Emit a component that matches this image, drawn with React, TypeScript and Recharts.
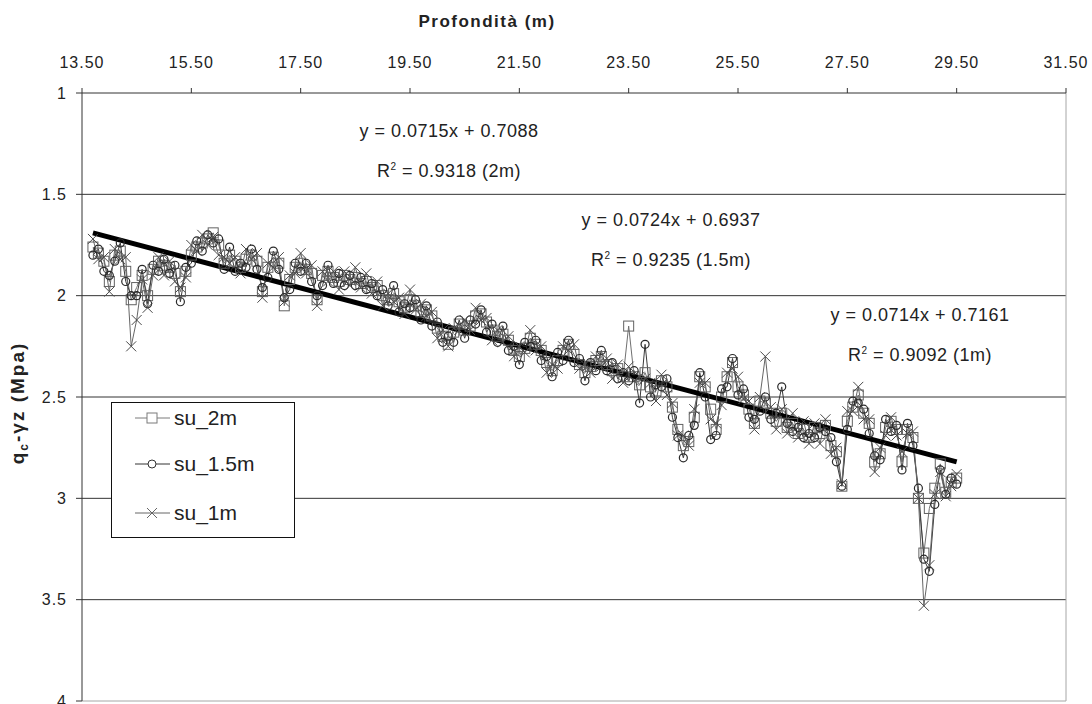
import React from "react";
import {
  LineChart,
  Line,
  XAxis,
  YAxis,
  ReferenceLine,
  Legend,
} from "recharts";

// depth (m), one reading every 0.1 m
const depth = [
  13.7, 13.8, 13.9, 14.0, 14.1, 14.2, 14.3, 14.4, 14.5, 14.6,
  14.7, 14.8, 14.9, 15.0, 15.1, 15.2, 15.3, 15.4, 15.5, 15.6,
  15.7, 15.8, 15.9, 16.0, 16.1, 16.2, 16.3, 16.4, 16.5, 16.6,
  16.7, 16.8, 16.9, 17.0, 17.1, 17.2, 17.3, 17.4, 17.5, 17.6,
  17.7, 17.8, 17.9, 18.0, 18.1, 18.2, 18.3, 18.4, 18.5, 18.6,
  18.7, 18.8, 18.9, 19.0, 19.1, 19.2, 19.3, 19.4, 19.5, 19.6,
  19.7, 19.8, 19.9, 20.0, 20.1, 20.2, 20.3, 20.4, 20.5, 20.6,
  20.7, 20.8, 20.9, 21.0, 21.1, 21.2, 21.3, 21.4, 21.5, 21.6,
  21.7, 21.8, 21.9, 22.0, 22.1, 22.2, 22.3, 22.4, 22.5, 22.6,
  22.7, 22.8, 22.9, 23.0, 23.1, 23.2, 23.3, 23.4, 23.5, 23.6,
  23.7, 23.8, 23.9, 24.0, 24.1, 24.2, 24.3, 24.4, 24.5, 24.6,
  24.7, 24.8, 24.9, 25.0, 25.1, 25.2, 25.3, 25.4, 25.5, 25.6,
  25.7, 25.8, 25.9, 26.0, 26.1, 26.2, 26.3, 26.4, 26.5, 26.6,
  26.7, 26.8, 26.9, 27.0, 27.1, 27.2, 27.3, 27.4, 27.5, 27.6,
  27.7, 27.8, 27.9, 28.0, 28.1, 28.2, 28.3, 28.4, 28.5, 28.6,
  28.7, 28.8, 28.9, 29.0, 29.1, 29.2, 29.3, 29.4, 29.5,
];

const su2m = [
  1.76, 1.79, 1.83, 1.93, 1.80, 1.78, 1.88, 2.02, 1.96, 1.90,
  2.00, 1.87, 1.83, 1.85, 1.86, 1.89, 1.98, 1.88, 1.80, 1.76,
  1.74, 1.72, 1.69, 1.75, 1.84, 1.80, 1.83, 1.86, 1.82, 1.80,
  1.83, 1.98, 1.86, 1.81, 1.84, 2.05, 1.92, 1.86, 1.84, 1.87,
  1.89, 2.02, 1.90, 1.88, 1.91, 1.93, 1.90, 1.92, 1.91, 1.94,
  1.93, 1.96, 1.95, 2.00, 2.02, 1.99, 2.03, 2.06, 2.02, 2.05,
  2.08, 2.07, 2.10, 2.16, 2.20, 2.24, 2.18, 2.14, 2.17, 2.15,
  2.10, 2.09, 2.13, 2.17, 2.20, 2.19, 2.22, 2.27, 2.30, 2.26,
  2.21, 2.24, 2.27, 2.33, 2.37, 2.32, 2.27, 2.24, 2.29, 2.34,
  2.38, 2.35, 2.32, 2.30, 2.34, 2.37, 2.36, 2.40, 2.15, 2.40,
  2.44, 2.38, 2.45, 2.47, 2.42, 2.45, 2.55, 2.66, 2.74, 2.72,
  2.60, 2.40, 2.45, 2.56, 2.66, 2.50, 2.40, 2.33, 2.45, 2.49,
  2.56, 2.63, 2.52, 2.53, 2.58, 2.62, 2.58, 2.65, 2.63, 2.68,
  2.66, 2.70, 2.65, 2.68, 2.64, 2.74, 2.77, 2.94, 2.62, 2.55,
  2.49, 2.58, 2.63, 2.82, 2.78, 2.65, 2.62, 2.66, 2.82, 2.66,
  2.70, 3.00, 3.27, 3.05, 2.95, 2.83, 2.97, 2.92, 2.90,
];

const su15m = [
  1.80, 1.77, 1.88, 1.90, 1.83, 1.74, 1.93, 2.00, 2.00, 1.87,
  2.04, 1.85, 1.88, 1.82, 1.89, 1.85, 2.03, 1.86, 1.84, 1.73,
  1.78, 1.70, 1.74, 1.72, 1.87, 1.76, 1.88, 1.84, 1.86, 1.77,
  1.87, 1.96, 1.91, 1.78, 1.87, 2.01, 1.97, 1.84, 1.88, 1.84,
  1.93, 2.00, 1.95, 1.85, 1.94, 1.89, 1.95, 1.90, 1.95, 1.91,
  1.97, 1.94, 2.00, 1.97, 2.05, 1.95, 2.08, 2.04, 2.06, 2.02,
  2.12, 2.05, 2.15, 2.13, 2.23, 2.20, 2.23, 2.12, 2.21, 2.12,
  2.14, 2.07, 2.18, 2.14, 2.23, 2.15, 2.27, 2.25, 2.34, 2.23,
  2.25, 2.22, 2.32, 2.30, 2.40, 2.28, 2.32, 2.22, 2.33, 2.31,
  2.42, 2.33, 2.37, 2.27, 2.37, 2.33, 2.41, 2.38, 2.42, 2.37,
  2.53, 2.24, 2.50, 2.44, 2.45, 2.41, 2.60, 2.70, 2.80, 2.69,
  2.64, 2.38, 2.50, 2.71, 2.69, 2.46, 2.45, 2.31, 2.49, 2.46,
  2.60, 2.61, 2.57, 2.50, 2.61, 2.58, 2.45, 2.63, 2.67, 2.65,
  2.70, 2.68, 2.70, 2.65, 2.67, 2.70, 2.82, 2.94, 2.66, 2.52,
  2.53, 2.56, 2.68, 2.79, 2.81, 2.61, 2.67, 2.64, 2.86, 2.63,
  2.74, 2.95, 3.30, 3.36, 3.03, 2.86, 2.98, 2.90, 2.93,
];

const su1m = [
  1.72, 1.82, 1.81, 1.98, 1.77, 1.82, 1.81, 2.25, 2.12, 1.92,
  2.06, 1.90, 1.81, 1.90, 1.83, 1.93, 1.96, 1.91, 1.75, 1.78,
  1.70, 1.75, 1.71, 1.80, 1.81, 1.84, 1.81, 1.89, 1.77, 1.82,
  1.79, 2.01, 1.84, 1.86, 1.81, 2.03, 1.90, 1.89, 1.79, 1.89,
  1.85, 2.05, 1.88, 1.93, 1.88, 1.97, 1.88, 1.95, 1.86, 1.96,
  1.89, 1.99, 1.93, 2.05, 1.99, 2.03, 2.01, 2.09, 1.97, 2.07,
  2.04, 2.10, 2.08, 2.21, 2.17, 2.25, 2.16, 2.17, 2.12, 2.17,
  2.06, 2.12, 2.11, 2.22, 2.17, 2.23, 2.20, 2.30, 2.25, 2.28,
  2.17, 2.27, 2.25, 2.38, 2.34, 2.36, 2.25, 2.27, 2.24, 2.36,
  2.34, 2.38, 2.30, 2.35, 2.31, 2.41, 2.34, 2.43, 2.35, 2.42,
  2.40, 2.41, 2.43, 2.52, 2.39, 2.49, 2.53, 2.69, 2.69, 2.74,
  2.56, 2.43, 2.43, 2.61, 2.63, 2.54, 2.38, 2.36, 2.40, 2.51,
  2.52, 2.66, 2.50, 2.30, 2.55, 2.66, 2.56, 2.68, 2.58, 2.70,
  2.62, 2.73, 2.63, 2.73, 2.61, 2.78, 2.75, 2.93, 2.57, 2.57,
  2.45, 2.61, 2.61, 2.87, 2.75, 2.69, 2.60, 2.69, 2.77, 2.68,
  2.67, 3.00, 3.53, 3.33, 2.98, 2.87, 2.99, 2.94, 2.88,
];

// linear trend (2m) end points
const trendDepth = [13.7, 29.5];
const trendValue = [1.69, 2.82];

const xTicks = [13.5, 15.5, 17.5, 19.5, 21.5, 23.5, 25.5, 27.5, 29.5, 31.5];
const yTicks = [1, 1.5, 2, 2.5, 3, 3.5, 4];
const gridLines = [1.5, 2, 2.5, 3, 3.5];

const rows = depth.map((d, i) => ({ depth: d, su2m: su2m[i], su15m: su15m[i], su1m: su1m[i] }));
const trendRows = trendDepth.map((d, i) => ({ depth: d, trend: trendValue[i] }));

const FONT = "'Liberation Sans', Arial, sans-serif";
const TEXT = "#222";

const SquareDot = (p: any) => {
  if (p.cx == null || p.cy == null) return <g key={`s${p.index}`} />;
  return (
    <rect key={`s${p.index}`} x={p.cx - 5} y={p.cy - 5} width={10} height={10}
      fill="none" stroke="#626262" strokeWidth={1} />
  );
};

const CircleDot = (p: any) => {
  if (p.cx == null || p.cy == null) return <g key={`c${p.index}`} />;
  return <circle key={`c${p.index}`} cx={p.cx} cy={p.cy} r={4} fill="none" stroke="#2a2a2a" strokeWidth={1.2} />;
};

const CrossDot = (p: any) => {
  if (p.cx == null || p.cy == null) return <g key={`x${p.index}`} />;
  return (
    <path key={`x${p.index}`} d={`M${p.cx - 5},${p.cy - 5}L${p.cx + 5},${p.cy + 5}M${p.cx - 5},${p.cy + 5}L${p.cx + 5},${p.cy - 5}`}
      stroke="#4a4a4a" strokeWidth={1} fill="none" />
  );
};

const legendItems = [
  { name: "su_2m", kind: "square", color: "#7a7a7a", top: 0 },
  { name: "su_1.5m", kind: "circle", color: "#333", top: 46 },
  { name: "su_1m", kind: "cross", color: "#666", top: 95 },
];

const LegendBox = () => (
  <div style={{
    position: "relative", width: 184, height: 136, boxSizing: "border-box", border: "1px solid #111",
    background: "#fff", fontFamily: FONT,
  }}>
    {legendItems.map((it) => (
      <div key={it.name} style={{
        position: "absolute", left: 23, top: it.top, height: 30,
        display: "flex", alignItems: "center",
      }}>
        <svg width={36} height={14} style={{ marginRight: 3 }}>
          <line x1={0} y1={7} x2={35} y2={7} stroke={it.color} strokeWidth={1} />
          {it.kind === "square" && <rect x={12} y={2} width={10} height={10} fill="#fff" stroke={it.color} />}
          {it.kind === "circle" && <circle cx={17} cy={7} r={4} fill="#fff" stroke={it.color} />}
          {it.kind === "cross" && <path d="M12,2L22,12M12,12L22,2" stroke={it.color} />}
        </svg>
        <span style={{ fontSize: 21, color: TEXT }}>{it.name}</span>
      </div>
    ))}
  </div>
);

const eqStyle: React.CSSProperties = {
  position: "absolute",
  transform: "translate(-50%, -50%)",
  fontSize: 18,
  letterSpacing: 0.5,
  lineHeight: "36px",
  color: TEXT,
  textAlign: "center",
  whiteSpace: "nowrap",
};

const Equation = ({ x, y, eq, r2 }: { x: number; y: number; eq: string; r2: string }) => (
  <div style={{ ...eqStyle, left: x, top: y }}>
    <div>{eq}</div>
    <div>R<sup style={{ fontSize: 10 }}>2</sup> = {r2}</div>
  </div>
);

export default function App() {
  return (
    <div style={{ position: "absolute", left: 0, top: 0, width: 1092, height: 704, background: "#fff", fontFamily: FONT }}>
      <LineChart width={1092} height={704} data={rows} margin={{ top: 53, right: 26, bottom: 3, left: 12 }}>
        <XAxis
          dataKey="depth" type="number" orientation="top" domain={[13.5, 31.5]} ticks={xTicks} interval={0}
          tickFormatter={(v: number) => v.toFixed(2)} height={40} tickSize={5} tickMargin={20}
          stroke="#333" tick={{ fontSize: 16, fill: TEXT, letterSpacing: 1 }}
        />
        <YAxis
          type="number" reversed domain={[1, 4]} ticks={yTicks} interval={0} width={70}
          tickSize={6} tickMargin={9} stroke="#333" tick={{ fontSize: 16, fill: TEXT, letterSpacing: 1 }}
        />
        {gridLines.map((g) => (
          <ReferenceLine key={g} y={g} stroke="#333" strokeWidth={1} />
        ))}
        <ReferenceLine y={4} stroke="#a6a6a6" />
        <ReferenceLine x={31.5} stroke="#a6a6a6" />
        <Line type="linear" dataKey="su2m" name="su_2m" stroke="#707070" strokeWidth={1}
          dot={SquareDot} activeDot={false} isAnimationActive={false} />
        <Line type="linear" dataKey="su15m" name="su_1.5m" stroke="#3a3a3a" strokeWidth={1}
          dot={CircleDot} activeDot={false} isAnimationActive={false} />
        <Line type="linear" dataKey="su1m" name="su_1m" stroke="#666" strokeWidth={1}
          dot={CrossDot} activeDot={false} isAnimationActive={false} />
        <Line data={trendRows} type="linear" dataKey="trend" stroke="#000" strokeWidth={5}
          dot={false} activeDot={false} isAnimationActive={false} legendType="none" />
        <Legend layout="vertical" align="center" verticalAlign="middle" content={() => <LegendBox />}
          wrapperStyle={{ left: 111, top: 402, width: 184, height: 136 }} />
      </LineChart>

      <div style={{
        position: "absolute", left: 487, top: 22, transform: "translate(-50%, -50%)",
        fontSize: 17, fontWeight: "bold", letterSpacing: 1.5, color: TEXT, whiteSpace: "nowrap",
      }}>
        Profondità (m)
      </div>

      <div style={{
        position: "absolute", left: 19, top: 403, transform: "translate(-50%, -50%) rotate(-90deg)",
        fontSize: 19, fontWeight: "bold", letterSpacing: 2, color: TEXT, whiteSpace: "nowrap",
      }}>
        q<sub style={{ fontSize: 12 }}>c</sub>-γz (Mpa)
      </div>

      <Equation x={449} y={151} eq="y = 0.0715x + 0.7088" r2="0.9318 (2m)" />
      <Equation x={671} y={240} eq="y = 0.0724x + 0.6937" r2="0.9235 (1.5m)" />
      <Equation x={920} y={335} eq="y = 0.0714x + 0.7161" r2="0.9092 (1m)" />
    </div>
  );
}
